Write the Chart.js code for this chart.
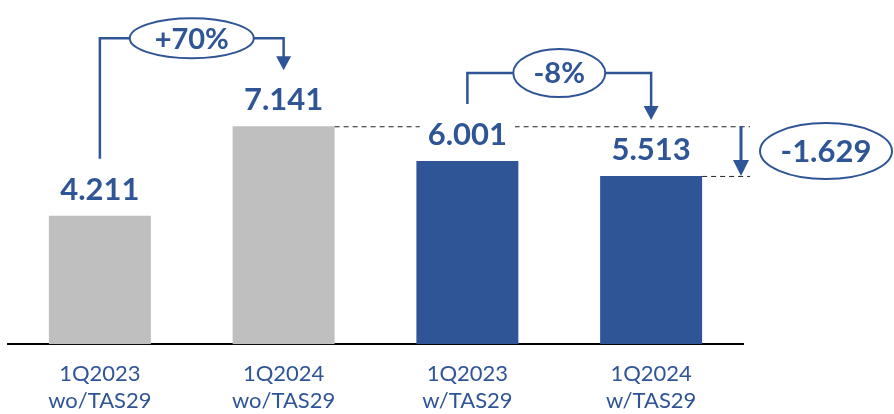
<!DOCTYPE html>
<html>
<head>
<meta charset="utf-8">
<script src="https://cdn.jsdelivr.net/npm/chart.js@4"></script>
<style>
  html, body { margin: 0; padding: 0; background: #fff; }
  #wrap { width: 894px; height: 414px; }
</style>
</head>
<body>
<div id="wrap"><canvas id="chart" width="894" height="414"></canvas></div>
<script>
// data
const categories = [["1Q2023", "wo/TAS29"], ["1Q2024", "wo/TAS29"], ["1Q2023", "w/TAS29"], ["1Q2024", "w/TAS29"]];
const values = [4.211, 7.141, 6.001, 5.513];
const valueLabels = ["4.211", "7.141", "6.001", "5.513"];
const changeLabels = ["+70%", "-8%"]; // 0->1, 2->3
const diffLabel = "-1.629";           // bar 3 vs bar 1

const BLUE = "#2F5597";
const GREY = "#BFBFBF";
const barColors = [GREY, GREY, BLUE, BLUE];
const FONT = "Lato, 'Open Sans', sans-serif";

function arrowDown(ctx, x, tipY, w, h) {
  ctx.beginPath();
  ctx.moveTo(x - w / 2, tipY - h);
  ctx.lineTo(x + w / 2, tipY - h);
  ctx.lineTo(x, tipY);
  ctx.closePath();
  ctx.fill();
}

function ellipseLabel(ctx, cx, cy, rx, ry, text, size) {
  ctx.save();
  ctx.beginPath();
  ctx.ellipse(cx, cy, rx, ry, 0, 0, Math.PI * 2);
  ctx.fillStyle = "#fff";
  ctx.fill();
  ctx.lineWidth = 2;
  ctx.strokeStyle = BLUE;
  ctx.stroke();
  ctx.fillStyle = BLUE;
  ctx.font = "bold " + size + "px " + FONT;
  ctx.textAlign = "center";
  ctx.textBaseline = "middle";
  ctx.fillText(text, cx, cy + 1);
  ctx.restore();
}

// brackets with % change between two bars
function bracket(ctx, bars, a, b, text, rx, ry) {
  const xa = bars[a].x, xb = bars[b].x;
  const topY = Math.min(bars[a].y, bars[b].y) - 88;
  const startY = bars[a].y - 57;
  const tipY = bars[b].y - 56;
  const cx = (xa + xb) / 2;
  ctx.save();
  ctx.strokeStyle = BLUE;
  ctx.fillStyle = BLUE;
  ctx.lineWidth = 2.5;
  ctx.beginPath();
  ctx.moveTo(xa, startY);
  ctx.lineTo(xa, topY);
  ctx.lineTo(cx - rx, topY);
  ctx.moveTo(cx + rx, topY);
  ctx.lineTo(xb, topY);
  ctx.lineTo(xb, tipY - 12);
  ctx.stroke();
  arrowDown(ctx, xb, tipY, 15, 14);
  ctx.restore();
  ellipseLabel(ctx, cx, topY, rx, ry, text, 29);
}

const annotations = {
  id: "annotations",
  afterDatasetsDraw(chart) {
    const ctx = chart.ctx;
    const bars = chart.getDatasetMeta(0).data;

    // dashed reference lines and difference arrow
    const endX = 750;
    ctx.save();
    ctx.strokeStyle = "#222";
    ctx.lineWidth = 1;
    ctx.setLineDash([5, 4]);
    ctx.beginPath();
    ctx.moveTo(bars[1].x + bars[1].width / 2, bars[1].y + 0.5);
    ctx.lineTo(endX, bars[1].y + 0.5);
    ctx.moveTo(bars[3].x + bars[3].width / 2, bars[3].y + 0.5);
    ctx.lineTo(endX, bars[3].y + 0.5);
    ctx.stroke();
    ctx.setLineDash([]);
    ctx.strokeStyle = BLUE;
    ctx.fillStyle = BLUE;
    ctx.lineWidth = 3;
    ctx.beginPath();
    ctx.moveTo(741, bars[1].y);
    ctx.lineTo(741, bars[3].y - 14);
    ctx.stroke();
    arrowDown(ctx, 741, bars[3].y, 16, 16);
    ctx.restore();

    // value labels (white box hides dashes behind)
    ctx.save();
    ctx.font = "bold 31px " + FONT;
    ctx.textAlign = "center";
    ctx.textBaseline = "middle";
    bars.forEach((bar, i) => {
      const y = bar.y - 26;
      const w = ctx.measureText(valueLabels[i]).width;
      ctx.fillStyle = "#fff";
      ctx.fillRect(bar.x - w / 2 - 8, y - 14, w + 16, 28);
      ctx.fillStyle = BLUE;
      ctx.fillText(valueLabels[i], bar.x, y);
    });
    ctx.restore();

    bracket(ctx, bars, 0, 1, changeLabels[0], 62, 20);
    bracket(ctx, bars, 2, 3, changeLabels[1], 46, 24);

    ellipseLabel(ctx, 826, (bars[1].y + bars[3].y) / 2, 66, 28, diffLabel, 31);
  }
};

new Chart(document.getElementById("chart"), {
  type: "bar",
  data: {
    labels: categories,
    datasets: [{
      data: values,
      backgroundColor: barColors,
      barPercentage: 0.555,
      categoryPercentage: 1
    }]
  },
  options: {
    responsive: false,
    animation: false,
    layout: { padding: { left: 8, right: 151, top: 39, bottom: -17 } },
    plugins: {
      legend: { display: false },
      tooltip: { enabled: false }
    },
    scales: {
      x: {
        grid: { display: false, drawTicks: false },
        border: { display: true, color: "#000", width: 2 },
        ticks: {
          color: BLUE,
          padding: 17,
          font: { family: FONT, size: 22, lineHeight: 1.2 }
        }
      },
      y: {
        display: false,
        min: 0,
        max: 10
      }
    }
  },
  plugins: [annotations]
});
</script>
</body>
</html>
